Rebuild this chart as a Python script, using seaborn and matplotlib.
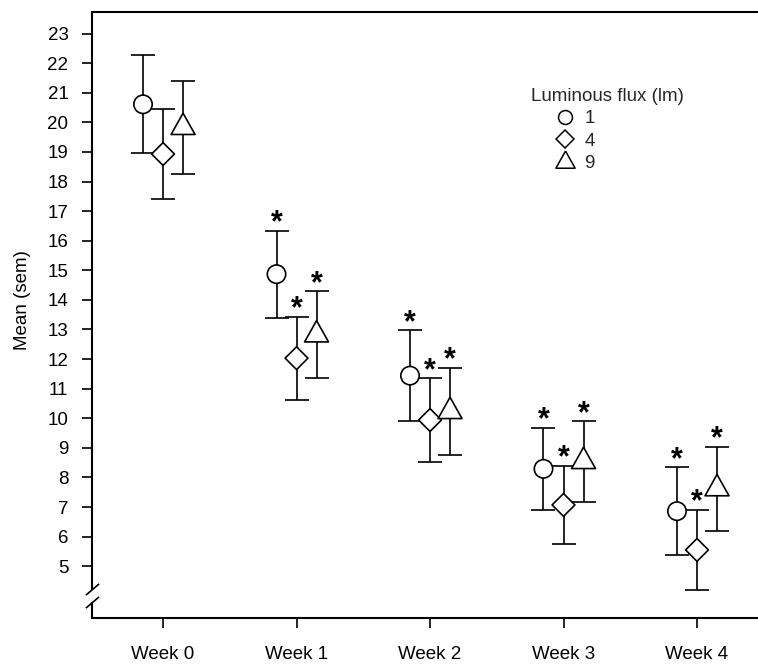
import numpy as np
import pandas as pd
import matplotlib
matplotlib.use("Agg")
import matplotlib.pyplot as plt
import matplotlib.transforms as mtransforms
from matplotlib.lines import Line2D
import seaborn as sns

# ---------------- data ----------------
weeks = ["Week 0", "Week 1", "Week 2", "Week 3", "Week 4"]
flux_levels = ["1", "4", "9"]
mean_1 = [20.61, 14.87, 11.44, 8.29, 6.86]
sem_1 = [1.66, 1.47, 1.54, 1.39, 1.48]
mean_4 = [18.93, 12.03, 9.94, 7.07, 5.55]
sem_4 = [1.53, 1.40, 1.41, 1.32, 1.35]
mean_9 = [19.83, 12.82, 10.23, 8.54, 7.62]
sem_9 = [1.57, 1.47, 1.47, 1.36, 1.42]
signif_1 = [False, True, True, True, True]
signif_4 = [False, True, True, True, True]
signif_9 = [False, True, True, True, True]
y_ticks = list(range(5, 24))

# ---------------- style ----------------
sns.set_theme(style="ticks")
plt.rcParams["font.family"] = ["Liberation Sans", "DejaVu Sans"]
plt.rcParams["axes.linewidth"] = 1.5

FS = 13.5
dodge = {"1": -0.15, "4": 0.0, "9": 0.15}
# triangle whose centroid sits on the data point
tri = [(0.0, 0.667), (-0.56, -0.333), (0.56, -0.333), (0.0, 0.667)]
markers = {"1": "o", "4": "D", "9": tri}
sizes = {"1": 175, "4": 135, "9": 420}

means = {"1": mean_1, "4": mean_4, "9": mean_9}
sems = {"1": sem_1, "4": sem_4, "9": sem_9}
sigs = {"1": signif_1, "4": signif_4, "9": signif_9}

rows = []
for f in flux_levels:
    for i, w in enumerate(weeks):
        rows.append({"week": w, "wi": i, "flux": f,
                     "x": i + dodge[f], "mean": means[f][i],
                     "sem": sems[f][i], "sig": sigs[f][i]})
df = pd.DataFrame(rows)

fig = plt.figure(figsize=(7.58, 6.65), dpi=100)
ax = fig.add_axes([0.1214, 0.0707, 0.8786, 0.9113])

# error bars (behind markers)
for f in flux_levels:
    d = df[df.flux == f]
    ax.errorbar(d["x"], d["mean"], yerr=d["sem"], fmt="none", ecolor="black",
                elinewidth=1.2, capsize=8.6, capthick=1.2, zorder=2)

sns.scatterplot(data=df, x="x", y="mean", style="flux", size="flux",
                markers=markers, sizes=sizes, style_order=flux_levels,
                size_order=flux_levels, color="white", edgecolor="black",
                linewidth=1.2, legend=False, ax=ax, zorder=3)

# significance asterisks
for _, r in df.iterrows():
    if r["sig"]:
        ax.annotate("*", xy=(r["x"], r["mean"] + r["sem"]), xytext=(0, -0.5),
                    textcoords="offset points", ha="center", va="baseline",
                    fontsize=22, fontweight="bold", color="black", zorder=4)

# axes limits / ticks
ax.set_xlim(-0.532, 4.457)
ax.set_ylim(3.25, 23.73)
ax.set_xticks(range(len(weeks)))
ax.set_xticklabels(weeks)
ax.set_yticks(y_ticks)
ax.tick_params(axis="both", direction="out", length=7.5, width=1.2,
               colors="black", labelsize=FS)
ax.tick_params(axis="x", pad=13)
ax.tick_params(axis="y", pad=9.5)
ax.set_xlabel("")
ax.set_ylabel("Mean (sem)", fontsize=FS, color="black")
ax.yaxis.set_label_coords(-0.092, 0.525)

for s in ["left", "bottom", "top"]:
    ax.spines[s].set_color("black")
    ax.spines[s].set_linewidth(1.5)
ax.spines["right"].set_visible(False)

# axis break on the y axis
BREAK_HI, BREAK_LO = 4.22, 3.78
ylo, yhi = ax.get_ylim()
ax.spines["left"].set_bounds(BREAK_HI, yhi)
blend = mtransforms.blended_transform_factory(ax.transAxes, ax.transData)
ax.plot([0, 0], [ylo, BREAK_LO], transform=blend, color="black", lw=1.5,
        clip_on=False, solid_capstyle="butt")
slash = [(-1.0, -0.85), (1.0, 0.85)]
ax.plot([0, 0], [BREAK_HI, BREAK_LO], transform=blend, linestyle="none",
        marker=slash, markersize=9.5, markeredgewidth=1.2, markeredgecolor="black",
        markerfacecolor="none", clip_on=False)

# legend
handles = []
leg_sizes = {"1": 10, "4": 9, "9": 16.5}
for f in flux_levels:
    handles.append(Line2D([], [], linestyle="none", marker=markers[f],
                          markersize=leg_sizes[f], markerfacecolor="white",
                          markeredgecolor="black", markeredgewidth=1.1, label=f))
leg = ax.legend(handles=handles, title="Luminous flux (lm)", frameon=False,
                loc="upper left", bbox_to_anchor=(531 / 758, 1 - 88 / 665),
                bbox_transform=fig.transFigure, fontsize=FS, title_fontsize=FS,
                borderpad=0, borderaxespad=0, handlelength=3.6,
                handletextpad=-0.75, labelspacing=0.28, alignment="left")

fig.savefig("out.png", dpi=100)
